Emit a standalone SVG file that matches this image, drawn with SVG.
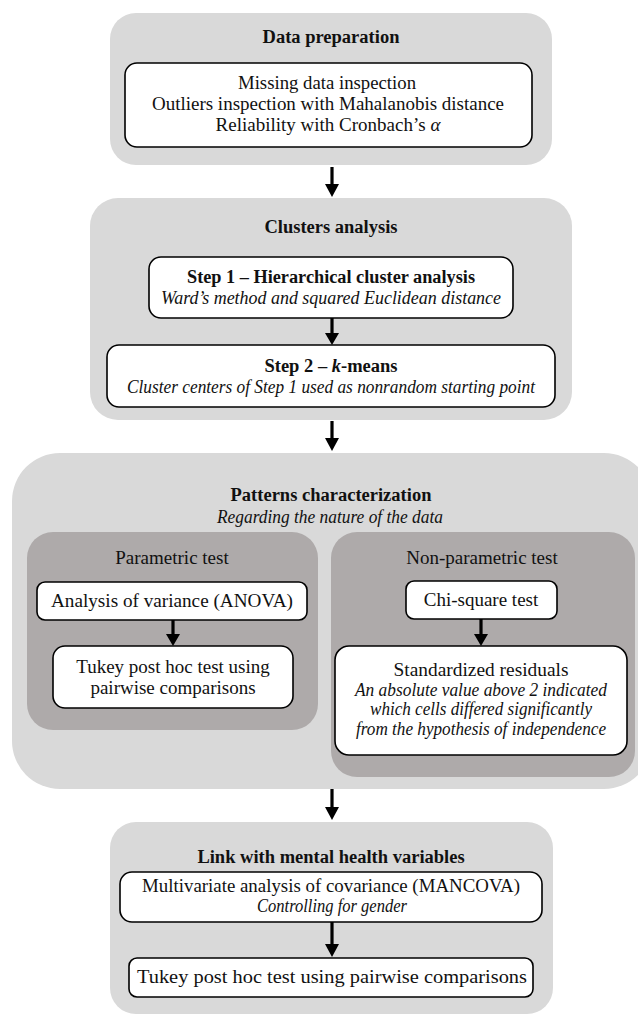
<svg xmlns="http://www.w3.org/2000/svg" width="638" height="1014" viewBox="0 0 638 1014">
<defs>
<style>
text{font-family:"Liberation Serif","Times New Roman",serif;font-size:19px;fill:#111;text-anchor:middle}
.b{font-weight:bold;font-size:18.5px}
.i{font-style:italic;font-size:18px}
.lg{fill:#d9d9d9}
.dg{fill:#aeaaaa}
.wb{fill:#fff;stroke:#000;stroke-width:1.6}
.ar{stroke:#000;stroke-width:3.2;fill:none}
.ah{fill:#000}
</style>
</defs>
<rect width="638" height="1014" fill="#fff"/>
<g id="data-preparation">
<rect class="lg" x="110" y="13" width="442" height="152" rx="26"/>
<text class="b" x="331" y="43">Data preparation</text>
<rect class="wb" x="125" y="63" width="407" height="84" rx="12"/>
<text x="327" y="89" textLength="178" lengthAdjust="spacingAndGlyphs">Missing data inspection</text>
<text x="328" y="110" textLength="352" lengthAdjust="spacingAndGlyphs">Outliers inspection with Mahalanobis distance</text>
<text x="328" y="131">Reliability with Cronbach’s <tspan font-style="italic">α</tspan></text>
</g>
<g id="clusters-analysis">
<rect class="lg" x="90" y="198" width="482" height="222" rx="28"/>
<text class="b" x="331" y="233">Clusters analysis</text>
<g id="step1">
<rect class="wb" x="149" y="257" width="364" height="61" rx="12"/>
<text class="b" x="331" y="283" textLength="288" lengthAdjust="spacingAndGlyphs">Step 1 – Hierarchical cluster analysis</text>
<text class="i" x="331" y="304" textLength="340" lengthAdjust="spacingAndGlyphs">Ward’s method and squared Euclidean distance</text>
</g>
<g id="step2">
<rect class="wb" x="107" y="345" width="448" height="62" rx="12"/>
<text class="b" x="331" y="372">Step 2 – <tspan font-style="italic">k</tspan>-means</text>
<text class="i" x="331" y="393" textLength="408" lengthAdjust="spacingAndGlyphs">Cluster centers of Step 1 used as nonrandom starting point</text>
</g>
</g>
<g id="patterns-characterization">
<rect class="lg" x="12" y="453" width="640" height="336" rx="48"/>
<text class="b" x="331" y="501">Patterns characterization</text>
<text class="i" x="330" y="523" textLength="226" lengthAdjust="spacingAndGlyphs">Regarding the nature of the data</text>
<g id="parametric-test">
<rect class="dg" x="27" y="532" width="291" height="198" rx="26"/>
<text x="172" y="564">Parametric test</text>
<g id="anova">
<rect class="wb" x="37" y="582" width="270" height="38" rx="8"/>
<text x="172" y="607" textLength="242" lengthAdjust="spacingAndGlyphs">Analysis of variance (ANOVA)</text>
</g>
<g id="tukey-param">
<rect class="wb" x="53" y="646" width="240" height="62" rx="12"/>
<text x="173" y="673">Tukey post hoc test using</text>
<text x="173" y="694">pairwise comparisons</text>
</g>
</g>
<g id="non-parametric-test">
<rect class="dg" x="331" y="532" width="304" height="245" rx="26"/>
<text x="482" y="564">Non-parametric test</text>
<g id="chi-square">
<rect class="wb" x="406" y="581" width="151" height="38" rx="8"/>
<text x="481" y="606">Chi-square test</text>
</g>
<g id="std-residuals">
<rect class="wb" x="335" y="646" width="292" height="109" rx="14"/>
<text x="481" y="676" textLength="175" lengthAdjust="spacingAndGlyphs">Standardized residuals</text>
<text class="i" x="481" y="696" textLength="252" lengthAdjust="spacingAndGlyphs">An absolute value above 2 indicated</text>
<text class="i" x="481" y="715" textLength="222" lengthAdjust="spacingAndGlyphs">which cells differed significantly</text>
<text class="i" x="481" y="735" textLength="250" lengthAdjust="spacingAndGlyphs">from the hypothesis of independence</text>
</g>
</g>
</g>
<g id="link-mental-health">
<rect class="lg" x="110" y="822" width="443" height="192" rx="26"/>
<text class="b" x="331" y="863">Link with mental health variables</text>
<g id="mancova">
<rect class="wb" x="120" y="872" width="422" height="50" rx="12"/>
<text x="331" y="892" textLength="378" lengthAdjust="spacingAndGlyphs">Multivariate analysis of covariance (MANCOVA)</text>
<text class="i" x="332" y="912" textLength="150" lengthAdjust="spacingAndGlyphs">Controlling for gender</text>
</g>
<g id="tukey-link">
<rect class="wb" x="129" y="958" width="404" height="39" rx="8"/>
<text x="332" y="983" textLength="390" lengthAdjust="spacingAndGlyphs">Tukey post hoc test using pairwise comparisons</text>
</g>
</g>
<g id="connectors">
<line class="ar" x1="332" y1="167" x2="332" y2="185"/><path class="ah" d="M325,184 L339,184 L332,197 Z"/>
<line class="ar" x1="332" y1="318" x2="332" y2="334"/><path class="ah" d="M325,333 L339,333 L332,345 Z"/>
<line class="ar" x1="332" y1="421" x2="332" y2="439"/><path class="ah" d="M325,438 L339,438 L332,451 Z"/>
<line class="ar" x1="173" y1="620" x2="173" y2="635"/><path class="ah" d="M166,634 L180,634 L173,646 Z"/>
<line class="ar" x1="481" y1="619" x2="481" y2="635"/><path class="ah" d="M474,634 L488,634 L481,646 Z"/>
<line class="ar" x1="332" y1="789" x2="332" y2="808"/><path class="ah" d="M325,807 L339,807 L332,820 Z"/>
<line class="ar" x1="332" y1="922" x2="332" y2="945"/><path class="ah" d="M325,944 L339,944 L332,957 Z"/>
</g>
</svg>
